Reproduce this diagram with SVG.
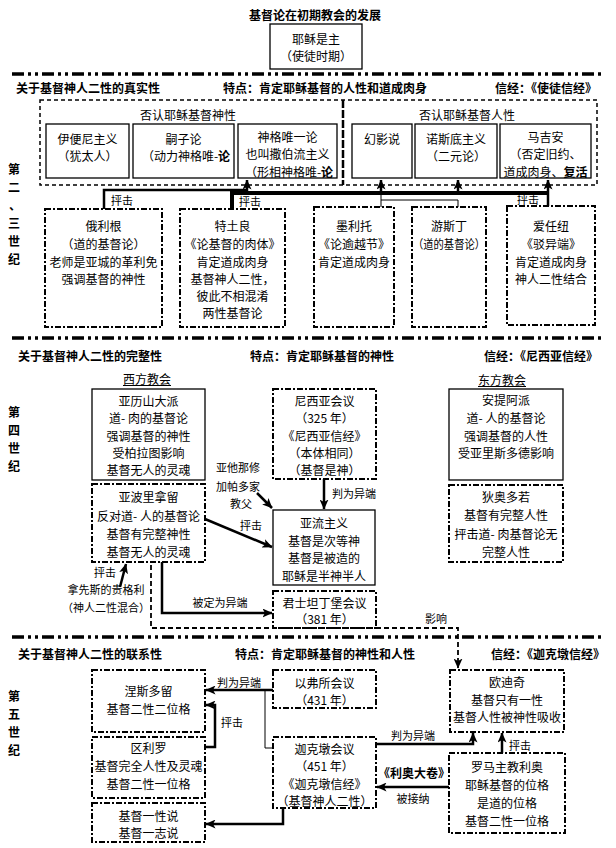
<svg xmlns="http://www.w3.org/2000/svg" width="616" height="848" viewBox="0 0 616 848">
<style>
text{font-family:"Noto Sans CJK SC","Noto Sans CJK JP",sans-serif;font-size:12px;fill:#000;dominant-baseline:central}
.c{text-anchor:middle}
.b{font-weight:bold}
.e{text-anchor:end}
.l{font-size:11px}
.v{font-weight:bold;font-size:12px;text-anchor:middle}
.s{fill:#fff;stroke:#000;stroke-width:1.3}
.d{fill:#fff;stroke:#000;stroke-width:2;stroke-dasharray:6 2 2 2}
.sep{stroke:#000;stroke-width:3.5;stroke-dasharray:12 4 3 4 3 4;fill:none}
.k{fill:none;stroke:#000;stroke-width:2.5}
.k4{fill:none;stroke:#000;stroke-width:4}
.t1{fill:none;stroke:#000;stroke-width:1}
.a{marker-end:url(#ah)}
</style>
<defs>
<marker id="ah" markerUnits="userSpaceOnUse" markerWidth="10" markerHeight="9" refX="9.5" refY="4.5" orient="auto"><path d="M0,0 L10,4.5 L0,9 L2.5,4.5 Z" fill="#000"/></marker>
</defs>
<rect width="616" height="848" fill="#fff"/>

<text class="c b" x="315" y="14">基督论在初期教会的发展</text>
<g id="n-lord"><rect class="s" x="270" y="24" width="92" height="45"/><text class="c" x="316" y="38">耶稣是主</text><text class="c" x="316" y="55">（使徒时期）</text></g>

<g id="separators">
<line class="sep" x1="12" y1="74" x2="603" y2="74"/>
<line class="sep" x1="12" y1="338" x2="603" y2="338"/>
<line class="sep" x1="12" y1="637" x2="603" y2="637"/>
</g>

<g id="headers">
<text class="b" x="16" y="87">关于基督神人二性的真实性</text>
<text class="b" x="223" y="87">特点：肯定耶稣基督的人性和道成肉身</text>
<text class="b e" x="597" y="87">信经：《使徒信经》</text>
<text class="b" x="18" y="355">关于基督神人二性的完整性</text>
<text class="b" x="250" y="355">特点：肯定耶稣基督的神性</text>
<text class="b e" x="598" y="355">信经：《尼西亚信经》</text>
<text class="b" x="18" y="653">关于基督神人二性的联系性</text>
<text class="b" x="235" y="653">特点：肯定耶稣基督的神性和人性</text>
<text class="b e" x="605" y="653">信经：《迦克墩信经》</text>
</g>

<g id="periods">
<text class="v" x="14" y="168">第</text><text class="v" x="14" y="186">二</text><text class="v" x="15" y="204">、</text><text class="v" x="14" y="222">三</text><text class="v" x="14" y="240">世</text><text class="v" x="14" y="258">纪</text>
<text class="v" x="14" y="411">第</text><text class="v" x="14" y="429">四</text><text class="v" x="14" y="447">世</text><text class="v" x="14" y="465">纪</text>
<text class="v" x="14" y="695">第</text><text class="v" x="14" y="713">五</text><text class="v" x="14" y="731">世</text><text class="v" x="14" y="749">纪</text>
</g>

<g id="n-deny">
<rect x="40" y="100" width="557" height="85" fill="none" stroke="#000" stroke-width="1.5" stroke-dasharray="4 3"/>
<line x1="343" y1="100" x2="343" y2="185" stroke="#000" stroke-width="2.5" stroke-dasharray="8 2"/>
<text class="c" x="188" y="114">否认耶稣基督神性</text>
<text class="c" x="467" y="114">否认耶稣基督人性</text>
</g>
<g id="n-ebion"><rect class="s" x="46" y="124" width="83" height="54"/><text class="c" x="87.5" y="138">伊便尼主义</text><text class="c" x="87.5" y="155">（犹太人）</text></g>
<g id="n-adopt"><rect class="s" x="133" y="124" width="101" height="54"/><text class="c" x="183.5" y="138">嗣子论</text><text class="c" x="186" y="155">（动力神格唯-<tspan class="b">论</tspan></text></g>
<g id="n-modal"><rect class="s" x="238" y="124" width="99" height="54"/><text class="c" x="287.5" y="136">神格唯一论</text><text class="c" x="287.5" y="153">也叫撒伯流主义</text><text class="c" x="289" y="171">（形相神格唯-<tspan class="b">论</tspan></text></g>
<g id="n-docet"><rect class="s" x="352" y="124" width="60" height="54"/><text class="c" x="382" y="138">幻影说</text></g>
<g id="n-gnost"><rect class="s" x="415" y="124" width="82" height="54"/><text class="c" x="456" y="138">诺斯底主义</text><text class="c" x="456" y="155">（二元论）</text></g>
<g id="n-marcion"><rect class="s" x="500" y="124" width="91" height="54"/><text class="c" x="545.5" y="136">马吉安</text><text class="c" x="545.5" y="153">（否定旧约、</text><text class="c" x="545.5" y="171">道成肉身、<tspan class="b">复活</tspan></text></g>

<g id="n-origen"><rect class="d" x="45" y="209" width="117" height="118"/><text class="c" x="103.5" y="225">俄利根</text><text class="c" x="103.5" y="243">（道的基督论）</text><text class="c" x="103.5" y="261">老师是亚城的革利免</text><text class="c" x="103.5" y="278">强调基督的神性</text></g>
<g id="n-tert"><rect class="d" x="180" y="209" width="105" height="118"/><text class="c" x="232.5" y="225">特土良</text><text class="c" x="232.5" y="243">《论基督的肉体》</text><text class="c" x="232.5" y="261">肯定道成肉身</text><text class="c" x="232.5" y="278">基督神人二性，</text><text class="c" x="232.5" y="295">彼此不相混淆</text><text class="c" x="232.5" y="312">两性基督论</text></g>
<g id="n-melito"><rect class="d" x="314" y="207" width="80" height="120"/><text class="c" x="354" y="225">墨利托</text><text class="c" x="354" y="243">《论逾越节》</text><text class="c" x="354" y="261">肯定道成肉身</text></g>
<g id="n-justin"><rect class="d" x="412" y="207" width="74" height="120"/><text class="c" x="449" y="225">游斯丁</text><text class="c" x="449" y="243" textLength="72" lengthAdjust="spacingAndGlyphs">（道的基督论）</text></g>
<g id="n-iren"><rect class="d" x="507" y="206" width="88" height="119"/><text class="c" x="551" y="225">爱任纽</text><text class="c" x="551" y="243">《驳异端》</text><text class="c" x="551" y="261">肯定道成肉身</text><text class="c" x="551" y="278">神人二性结合</text></g>

<g id="n-west"><text class="c" x="147" y="378">西方教会</text><line x1="123" y1="385.5" x2="171" y2="385.5" stroke="#000" stroke-width="1"/></g>
<g id="n-east"><text class="c" x="502" y="379">东方教会</text><line x1="478" y1="386.5" x2="526" y2="386.5" stroke="#000" stroke-width="1"/></g>
<g id="n-alex"><rect class="s" x="92" y="389" width="113" height="91"/><text class="c" x="148.5" y="400">亚历山大派</text><text class="c" x="148.5" y="417">道- 肉的基督论</text><text class="c" x="148.5" y="435">强调基督的神性</text><text class="c" x="148.5" y="452">受柏拉图影响</text><text class="c" x="148.5" y="469">基督无人的灵魂</text></g>
<g id="n-apoll"><rect class="d" x="92" y="484" width="113" height="78"/><text class="c" x="148.5" y="496">亚波里拿留</text><text class="c" x="148.5" y="515">反对道- 人的基督论</text><text class="c" x="148.5" y="533">基督有完整神性</text><text class="c" x="148.5" y="551">基督无人的灵魂</text></g>
<g id="n-nicaea"><rect class="d" x="273" y="389" width="103" height="90"/><text class="c" x="324.5" y="400">尼西亚会议</text><text class="c" x="324.5" y="417">（325 年）</text><text class="c" x="324.5" y="435">《尼西亚信经》</text><text class="c" x="324.5" y="452">（本体相同）</text><text class="c" x="324.5" y="469">（基督是神）</text></g>
<g id="n-arius"><rect class="s" x="273" y="510" width="102" height="75"/><text class="c" x="324" y="522">亚流主义</text><text class="c" x="324" y="540">基督是次等神</text><text class="c" x="324" y="557">基督是被造的</text><text class="c" x="324" y="575">耶稣是半神半人</text></g>
<g id="n-const"><rect class="d" x="273" y="591" width="103" height="37"/><text class="c" x="324.5" y="602">君士坦丁堡会议</text><text class="c" x="324.5" y="618">（381 年）</text></g>
<g id="n-antioch"><rect class="s" x="449" y="389" width="114" height="91"/><text class="c" x="506" y="399">安提阿派</text><text class="c" x="506" y="417">道- 人的基督论</text><text class="c" x="506" y="435">强调基督的人性</text><text class="c" x="506" y="452">受亚里斯多德影响</text></g>
<g id="n-theod"><rect class="d" x="449" y="485" width="114" height="77"/><text class="c" x="506" y="496">狄奥多若</text><text class="c" x="506" y="514">基督有完整人性</text><text class="c" x="506" y="533">抨击道- 肉基督论无</text><text class="c" x="506" y="551">完整人性</text></g>
<g id="n-athan"><text class="c l" x="238" y="467">亚他那修</text><text class="c l" x="238" y="486">加帕多家</text><text class="c l" x="241" y="503">教父</text></g>
<g id="n-greg"><text class="c l" x="106" y="589">拿先斯的贵格利</text><text class="c l" x="106" y="607">（神人二性混合）</text></g>

<g id="n-nest"><rect class="d" x="92" y="670" width="113" height="62"/><text class="c" x="148.5" y="690">涅斯多留</text><text class="c" x="148.5" y="708">基督二性二位格</text></g>
<g id="n-cyril"><rect class="d" x="92" y="737" width="113" height="61"/><text class="c" x="148.5" y="747">区利罗</text><text class="c" x="148.5" y="765">基督完全人性及灵魂</text><text class="c" x="148.5" y="783">基督二性一位格</text></g>
<g id="n-mono"><rect class="d" x="92" y="803" width="113" height="39"/><text class="c" x="148.5" y="815">基督一性说</text><text class="c" x="148.5" y="832">基督一志说</text></g>
<g id="n-ephesus"><rect class="d" x="273" y="670" width="103" height="38"/><text class="c" x="324.5" y="682">以弗所会议</text><text class="c" x="324.5" y="699">（431 年）</text></g>
<g id="n-chalc"><rect class="d" x="273" y="737" width="103" height="71"/><text class="c" x="324.5" y="748">迦克墩会议</text><text class="c" x="324.5" y="765">（451 年）</text><text class="c" x="324.5" y="783">《迦克墩信经》</text><text class="c" x="324.5" y="800">（基督神人二性）</text></g>
<g id="n-eut"><rect class="d" x="450" y="670" width="114" height="62"/><text class="c" x="507" y="681">欧迪奇</text><text class="c" x="507" y="699">基督只有一性</text><text class="c" x="507" y="716">基督人性被神性吸收</text></g>
<g id="n-leo"><rect class="d" x="449" y="753" width="116" height="80"/><text class="c" x="507" y="766">罗马主教利奥</text><text class="c" x="507" y="784">耶稣基督的位格</text><text class="c" x="507" y="802">是道的位格</text><text class="c" x="507" y="820">基督二性一位格</text></g>

<g id="connectors">
<path class="k a" d="M104,209 V190 H247 V180"/>
<path class="k4" d="M232,209 V193 H548"/>
<path class="k a" d="M381,193 V180"/>
<path class="k a" d="M458,193 V180"/>
<path class="k a" d="M548,206 V180"/>
<path class="t1" d="M381,193 V207 M381,200 H458 V207"/>
<text class="c l" x="122" y="200">抨击</text>
<text class="c l" x="250" y="201">抨击</text>
<text class="c l" x="528" y="199">抨击</text>

<path class="k a" d="M324,479 V509"/>
<text class="l" x="332" y="493">判为异端</text>
<path class="k a" d="M205,519 L272,547"/>
<text class="c l" x="251" y="525">抨击</text>
<path class="k a" d="M257,493 L272,508"/>
<path class="k a" d="M162,562 V613 H272"/>
<text class="c l" x="220" y="602">被定为异端</text>
<path class="k a" d="M120,587 L126,564"/>
<text class="c l" x="105" y="572">抨击</text>
<path class="a" d="M151,565 V628 H458 V668" fill="none" stroke="#000" stroke-width="1.8" stroke-dasharray="5 3"/>
<text class="c l" x="436" y="618">影响</text>

<path class="k a" d="M273,690 H206"/>
<text class="c l" x="239" y="682">判为异端</text>
<path class="t1" d="M265,690 V748 H273"/>
<path class="k a" d="M205,747 H215 V705 H206"/>
<text class="c l" x="232" y="722">抨击</text>
<path class="k a" d="M283,808 V824 H206"/>
<path class="k a" d="M376,744 H473 V733"/>
<text class="c l" x="413" y="735">判为异端</text>
<path class="k a" d="M502,753 V733"/>
<text class="c l" x="520" y="745">抨击</text>
<path class="k a" d="M449,787 H377"/>
<text class="c b" x="414" y="772">《利奥大卷》</text>
<text class="c l" x="413" y="798">被接纳</text>
</g>
</svg>
